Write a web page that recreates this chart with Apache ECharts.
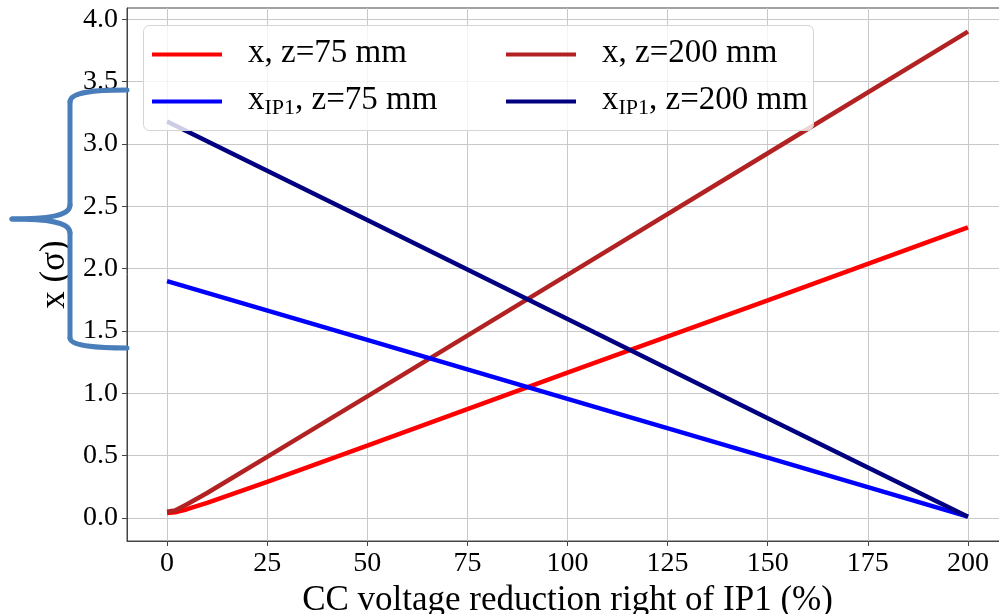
<!DOCTYPE html>
<html>
<head>
<meta charset="utf-8">
<script src="https://cdn.jsdelivr.net/npm/echarts@6/dist/echarts.min.js"></script>
<style>
  html, body { margin: 0; padding: 0; background: #fff; }
  #chart { width: 999px; height: 614px; }
</style>
</head>
<body>
<div id="chart"></div>
<script>
// CC voltage reduction right of IP1 (%)
var voltageCurved = [0, 2, 5, 10, 25, 50, 100, 150, 200];
var voltageStraight = [0, 50, 100, 150, 200];

// beam offset x (sigma) at z = 75 mm and z = 200 mm
var xZ75 = [0.04, 0.045, 0.07, 0.12, 0.29, 0.58, 1.165, 1.745, 2.33];
var xZ200 = [0.05, 0.06, 0.11, 0.2, 0.49, 0.975, 1.95, 2.925, 3.9];
// offset at IP1 for the same two positions
var xIP1Z75 = [1.9, 1.428, 0.955, 0.483, 0.01];
var xIP1Z200 = [3.18, 2.39, 1.595, 0.8, 0.01];

var xTicks = [0, 25, 50, 75, 100, 125, 150, 175, 200];
var yTicks = [0, 0.5, 1, 1.5, 2, 2.5, 3, 3.5, 4];

var seriesNames = ['x, z=75 mm', 'x, z=200 mm', 'xIP1, z=75 mm', 'xIP1, z=200 mm'];
var seriesColors = ['#ff0000', '#b22222', '#0000ff', '#000080'];

function pairs(xs, ys) {
  return xs.map(function (v, i) { return [v, ys[i]]; });
}

var FONT = 'Liberation Serif';

function lineSeries(idx, xs, ys) {
  return {
    name: seriesNames[idx],
    type: 'line',
    data: pairs(xs, ys),
    symbol: 'none',
    showSymbol: false,
    smooth: false,
    z: 3,
    itemStyle: { color: seriesColors[idx] },
    lineStyle: { color: seriesColors[idx], width: 4.5, cap: 'butt' },
    emphasis: { disabled: true }
  };
}

var legendRich = {
  m0: { fontFamily: FONT, fontSize: 33, color: '#000', padding: [0, 0, 2, 21], verticalAlign: 'bottom' },
  m: { fontFamily: FONT, fontSize: 33, color: '#000', padding: [0, 0, 2, 0], verticalAlign: 'bottom' },
  s: { fontFamily: FONT, fontSize: 22, color: '#000', verticalAlign: 'bottom' }
};

function legendText(name) {
  if (name.indexOf('xIP1') === 0) {
    return '{m0|x}{s|IP1}{m|' + name.slice(4) + '}';
  }
  return '{m0|' + name + '}';
}

function makeLegend(left, names) {
  return {
    orient: 'vertical',
    left: left,
    top: 37,
    icon: 'rect',
    itemWidth: 70,
    itemHeight: 4,
    itemGap: 14,
    padding: 0,
    selectedMode: false,
    data: names,
    formatter: legendText,
    textStyle: { fontFamily: FONT, fontSize: 33, color: '#000', rich: legendRich }
  };
}

// tick labels go through a rich token so the serif face is applied
var tickRich = { t: { fontFamily: FONT, fontSize: 28, color: '#000' } };

// curly brace beside the y axis, built from straight and cubic pieces
var BRACE_COLOR = '#4a7ebb';
function braceCurve(x1, y1, cx1, cy1, cx2, cy2, x2, y2) {
  return {
    type: 'bezierCurve', z: 100,
    shape: { x1: x1, y1: y1, cpx1: cx1, cpy1: cy1, cpx2: cx2, cpy2: cy2, x2: x2, y2: y2 },
    style: { fill: null, stroke: BRACE_COLOR, lineWidth: 5, lineCap: 'round' }
  };
}
function braceLine(x1, y1, x2, y2) {
  return {
    type: 'line', z: 100,
    shape: { x1: x1, y1: y1, x2: x2, y2: y2 },
    style: { stroke: BRACE_COLOR, lineWidth: 5, lineCap: 'round' }
  };
}

var chart = echarts.init(document.getElementById('chart'), null, { renderer: 'canvas' });

chart.setOption({
  animation: false,
  backgroundColor: '#ffffff',
  textStyle: { fontFamily: FONT },
  grid: {
    left: 127, right: -9, top: 8, bottom: 73,
    outerBoundsMode: 'none',
    containLabel: false,
    show: true, borderColor: '#444', borderWidth: 1
  },
  xAxis: {
    type: 'value',
    min: -10, max: 210,
    name: 'CC voltage reduction right of IP1 (%)',
    nameLocation: 'middle',
    nameGap: 35,
    nameTextStyle: { fontFamily: FONT, fontSize: 35, color: '#000' },
    axisLine: { show: true, onZero: false, lineStyle: { color: '#444', width: 1 } },
    axisTick: { show: true, inside: false, length: 5, customValues: xTicks, lineStyle: { color: '#444' } },
    axisLabel: {
      customValues: xTicks, margin: 9, fontFamily: FONT, fontSize: 28, color: '#000',
      rich: tickRich,
      formatter: function (v) { return '{t|' + v + '}'; }
    },
    splitLine: { show: true, lineStyle: { color: '#c8c8c8', width: 1 } }
  },
  yAxis: {
    type: 'value',
    min: -0.185, max: 4.09,
    name: 'x (σ)',
    nameLocation: 'middle',
    nameRotate: 90,
    nameGap: 50,
    nameTextStyle: { fontFamily: FONT, fontSize: 35, color: '#000' },
    axisLine: { show: true, onZero: false, lineStyle: { color: '#444', width: 1 } },
    axisTick: { show: true, inside: false, length: 5, customValues: yTicks, lineStyle: { color: '#444' } },
    axisLabel: {
      customValues: yTicks, margin: 9, fontFamily: FONT, fontSize: 28, color: '#000',
      rich: tickRich,
      formatter: function (v) { return '{t|' + v.toFixed(1) + '}'; }
    },
    splitLine: { show: true, lineStyle: { color: '#c8c8c8', width: 1 } }
  },
  legend: [
    makeLegend(152, [seriesNames[0], seriesNames[2]]),
    makeLegend(506, [seriesNames[1], seriesNames[3]])
  ],
  graphic: [
    {
      // legend frame
      type: 'rect',
      z: 4,
      shape: { x: 143.5, y: 25.5, width: 670, height: 105, r: 6 },
      style: { fill: 'rgba(255,255,255,0.8)', stroke: '#d4d4d4', lineWidth: 1 }
    },
    braceCurve(127, 90, 98, 90, 70, 91, 70, 102),
    braceLine(70, 102, 70, 205),
    braceCurve(70, 205, 70, 214, 56, 219, 12, 219),
    braceCurve(12, 219, 56, 219, 70, 224, 70, 233),
    braceLine(70, 233, 70, 338),
    braceCurve(70, 338, 70, 346, 98, 348, 127, 348)
  ],
  series: [
    lineSeries(0, voltageCurved, xZ75),
    lineSeries(1, voltageCurved, xZ200),
    lineSeries(2, voltageStraight, xIP1Z75),
    lineSeries(3, voltageStraight, xIP1Z200)
  ]
});
</script>
</body>
</html>
